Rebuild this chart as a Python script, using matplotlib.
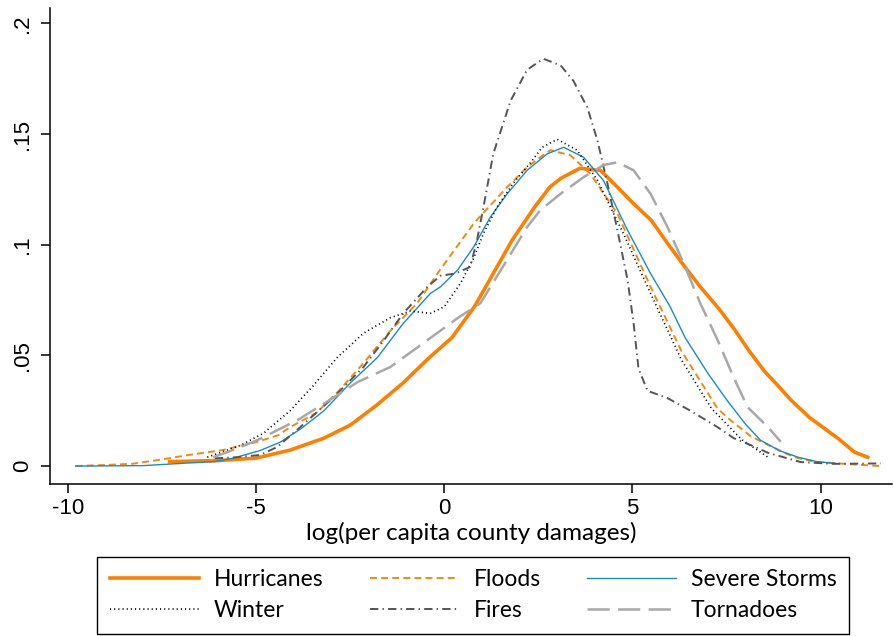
import matplotlib
matplotlib.use("Agg")
import matplotlib.pyplot as plt

plt.rcParams['font.family'] = ['Lato', 'DejaVu Sans']
plt.rcParams['axes.unicode_minus'] = False
plt.rcParams['lines.scale_dashes'] = False

# density curves (x = log per capita damages)
hurr_x = [-7.3, -6.0, -5.0, -4.1, -3.2, -2.5, -1.8, -1.1, -0.4, 0.2, 0.8, 1.3, 1.8, 2.4, 2.8, 3.1,
          3.6, 4.15, 4.6, 5.0, 5.5, 6.0, 6.4, 6.8, 7.3, 7.7, 8.1, 8.5, 8.9, 9.2, 9.7, 10.1, 10.5,
          10.9, 11.25]
hurr_y = [0.002, 0.0025, 0.0036, 0.0072, 0.0126, 0.0185, 0.0275, 0.0375, 0.049, 0.058, 0.072,
          0.087, 0.102, 0.117, 0.126, 0.130, 0.1345, 0.1336, 0.126, 0.119, 0.111, 0.099, 0.0898,
          0.081, 0.071, 0.062, 0.052, 0.043, 0.0357, 0.030, 0.022, 0.017, 0.012, 0.0063, 0.004]

flood_x = [-9.8, -9.0, -8.3, -7.5, -6.8, -5.9, -5.0, -4.4, -4.1, -3.4, -2.8, -2.15, -1.44, -0.72,
           -0.1, 0.8, 1.67, 2.2, 2.55, 2.82, 3.35, 3.88, 4.6, 5.48, 6.3, 7.26, 7.6, 8.14, 8.5,
           9.1, 9.4, 9.9, 10.3, 11.1, 11.6]
flood_y = [0.0, 0.0005, 0.001, 0.003, 0.005, 0.0072, 0.0108, 0.014, 0.0176, 0.024, 0.034, 0.0465,
           0.061, 0.0736, 0.089, 0.11, 0.126, 0.135, 0.1395, 0.1427, 0.1404, 0.132, 0.114, 0.081,
           0.052, 0.026, 0.0208, 0.0135, 0.0104, 0.0055, 0.0036, 0.0018, 0.0014, 0.0005, 0.0]

storm_x = [-9.8, -8.0, -6.8, -6.1, -5.6, -4.9, -4.36, -3.8, -3.2, -2.5, -1.78, -1.09, -0.37, -0.1,
           0.35, 0.78, 1.22, 1.67, 2.2, 2.73, 3.17, 3.7, 4.23, 4.87, 5.48, 6.0, 6.4, 7.0, 7.5,
           8.0, 8.4, 8.9, 9.4, 9.9, 10.4]
storm_y = [0.0, 0.0002, 0.0014, 0.002, 0.0036, 0.007, 0.0108, 0.017, 0.025, 0.0375, 0.049, 0.0645,
           0.078, 0.081, 0.0885, 0.099, 0.1124, 0.123, 0.1336, 0.141, 0.144, 0.1395, 0.129,
           0.1065, 0.087, 0.072, 0.058, 0.042, 0.030, 0.019, 0.0117, 0.007, 0.004, 0.002, 0.0012]

winter_x = [-6.3, -5.8, -5.4, -4.8, -4.1, -3.5, -2.85, -2.15, -1.44, -0.9, -0.37, 0.0, 0.43, 0.78,
            1.04, 1.4, 1.84, 2.29, 2.6, 3.0, 3.53, 4.07, 4.76, 5.48, 6.3, 7.1, 7.9, 8.6]
winter_y = [0.004, 0.007, 0.0095, 0.0149, 0.025, 0.036, 0.049, 0.060, 0.067, 0.070, 0.069, 0.072,
            0.0826, 0.094, 0.105, 0.117, 0.128, 0.137, 0.144, 0.1476, 0.1427, 0.129, 0.105,
            0.078, 0.048, 0.026, 0.012, 0.004]

fire_x = [-6.1, -5.5, -4.9, -4.44, -3.83, -2.95, -2.15, -1.6, -1.09, -0.45, -0.1, 0.3, 0.69,
          0.88, 1.04, 1.3, 1.76, 2.2, 2.63, 3.09, 3.43, 3.8, 4.07, 4.33, 4.6, 4.87, 5.03, 5.16,
          5.4, 5.93, 6.54, 7.26, 7.69, 8.14, 8.6, 9.47, 10.35, 11.6]
fire_y = [0.0035, 0.004, 0.005, 0.0086, 0.0176, 0.031, 0.0447, 0.057, 0.069, 0.081, 0.086, 0.087,
          0.09, 0.103, 0.117, 0.141, 0.165, 0.179, 0.184, 0.181, 0.174, 0.162, 0.147, 0.128,
          0.1065, 0.084, 0.0645, 0.044, 0.034, 0.0307, 0.025, 0.0176, 0.0126, 0.0095, 0.006,
          0.0018, 0.001, 0.0012]

torn_x = [-6.14, -5.5, -4.97, -3.9, -3.03, -2.3, -1.44, -0.56, 0.35, 0.96, 1.5, 2.2, 2.55, 3.09,
          3.7, 4.23, 4.6, 5.03, 5.48, 5.93, 6.36, 6.8, 7.26, 7.69, 8.06, 8.6, 8.94]
torn_y = [0.004, 0.008, 0.0117, 0.0208, 0.030, 0.038, 0.0447, 0.0555, 0.0668, 0.0736, 0.0885,
          0.108, 0.1156, 0.123, 0.1305, 0.136, 0.1372, 0.1336, 0.123, 0.108, 0.0916, 0.0736,
          0.057, 0.040, 0.0266, 0.0176, 0.011]

xticks = [-10, -5, 0, 5, 10]
yticks = [0, 0.05, 0.1, 0.15, 0.2]
ytick_labels = ['0', '.05', '.1', '.15', '.2']

fig = plt.figure(figsize=(8.93, 6.36), dpi=100)
ax = fig.add_axes([0.056, 0.239, 0.943, 0.748])

h_hurr, = ax.plot(hurr_x, hurr_y, color='#ff8000', lw=2.6, label='Hurricanes')
h_flood, = ax.plot(flood_x, flood_y, color='#f28a10', lw=1.4, linestyle=(0, (5, 3)), label='Floods')
h_storm, = ax.plot(storm_x, storm_y, color='#1a8cc4', lw=1.0, label='Severe Storms')
h_winter, = ax.plot(winter_x, winter_y, color='black', lw=1.2, linestyle=(0, (0.8, 2.2)), label='Winter')
h_fire, = ax.plot(fire_x, fire_y, color='#555555', lw=1.4, linestyle=(0, (6, 3, 1, 3)), label='Fires')
h_torn, = ax.plot(torn_x, torn_y, color='#a8a8a8', lw=1.8, linestyle=(0, (16, 6)), label='Tornadoes')

ax.set_xlim(-10.48, 11.9)
ax.set_ylim(-0.0081, 0.2068)
ax.set_xticks(xticks)
ax.set_xticklabels([str(t) for t in xticks], family='Liberation Sans')
ax.set_yticks(yticks)
ax.set_yticklabels(ytick_labels, rotation=90, va='center', family='Liberation Sans')
ax.tick_params(axis='both', labelsize=16, length=6.5, width=1.1, direction='out')
ax.tick_params(axis='y', pad=6)
ax.spines['top'].set_visible(False)
ax.spines['right'].set_visible(False)
ax.spines['left'].set_linewidth(1.1)
ax.spines['bottom'].set_linewidth(1.1)
ax.set_xlabel('log(per capita county damages)', fontsize=17.5, labelpad=2)

# legend fills column by column, so order handles to get the row layout
order = [h_hurr, h_winter, h_flood, h_fire, h_storm, h_torn]
leg = fig.legend(handles=order, labels=[h.get_label() for h in order],
                 loc='lower center', bbox_to_anchor=(0.53, 0.003), ncol=3, fontsize=16.5,
                 frameon=True, fancybox=False, edgecolor='black', framealpha=1,
                 handlelength=3.9, handletextpad=0.65, columnspacing=2.0, labelspacing=0.45,
                 borderpad=0.55, borderaxespad=0)
leg.get_frame().set_linewidth(1.0)

fig.savefig('out.png', dpi=100)
